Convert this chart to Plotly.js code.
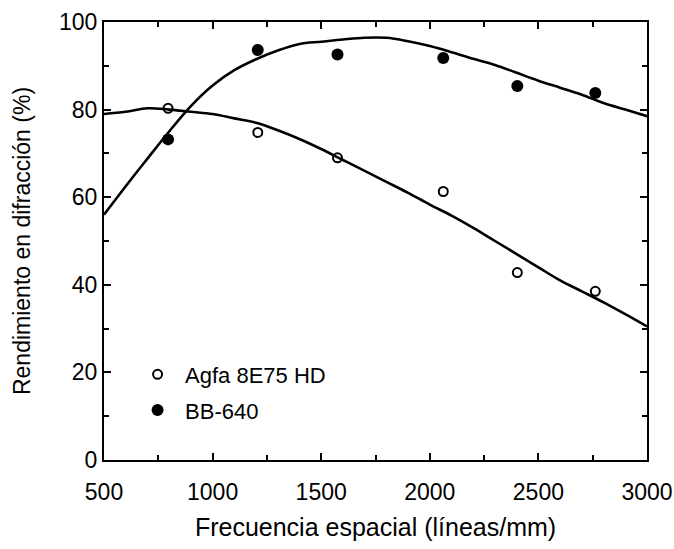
<!DOCTYPE html>
<html>
<head>
<meta charset="utf-8">
<script src="https://cdn.plot.ly/plotly-3.0.1.min.js"></script>
<style>html,body{margin:0;padding:0;background:#fff}#chart{width:674px;height:549px}</style>
</head>
<body>
<div id="chart"></div>
<script>
// Measured points
var xPts = [795, 1208, 1575, 2062, 2403, 2762];
var agfaPts = [80.3, 74.8, 69.0, 61.3, 42.8, 38.5];
var bbPts = [73.2, 93.6, 92.6, 91.8, 85.4, 83.8];

// Fitted curves
var xCurve = [500, 600, 700, 800, 900, 1000, 1100, 1200, 1300, 1400, 1500, 1600, 1700, 1800, 1900, 2000, 2100, 2200, 2300, 2400, 2500, 2600, 2700, 2800, 2900, 3000];
var agfaCurve = [79, 79.5, 80.3, 80, 79.5, 79, 78, 77, 75.3, 73.3, 71, 68.5, 66, 63.5, 61, 58.3, 55.8, 53, 50, 47, 44, 41, 38.5, 36, 33.3, 30.5];
var bbCurve = [56, 62.5, 68.8, 75, 80.8, 85.5, 89, 91.5, 93.5, 95, 95.5, 96, 96.4, 96.4, 95.6, 94.5, 93.1, 91.6, 90.2, 88.4, 86.6, 85, 83.4, 81.5, 80, 78.5];

var names = ['Agfa 8E75 HD', 'BB-640'];

var fam = 'Liberation Sans, Arial, sans-serif';

var traces = [
  {x: xCurve, y: agfaCurve, mode: 'lines', line: {color: '#000', width: 2.6, shape: 'spline'}, showlegend: false, hoverinfo: 'skip'},
  {x: xCurve, y: bbCurve, mode: 'lines', line: {color: '#000', width: 2.6, shape: 'spline'}, showlegend: false, hoverinfo: 'skip'},
  {x: xPts, y: agfaPts, mode: 'markers', name: names[0], legendgroup: 'a',
   marker: {symbol: 'circle-open', size: 9, color: '#000', line: {width: 2, color: '#000'}}},
  {x: xPts, y: bbPts, mode: 'markers', name: names[1], legendgroup: 'b',
   marker: {symbol: 'circle', size: 12, color: '#000'}}
];

var layout = {
  width: 674, height: 549,
  margin: {l: 104, r: 27, t: 22, b: 89},
  paper_bgcolor: '#fff', plot_bgcolor: '#fff',
  font: {family: fam, color: '#000', size: 22},
  showlegend: true,
  legend: {x: 0.048, y: 0.243, xanchor: 'left', yanchor: 'top', bgcolor: 'rgba(0,0,0,0)',
           itemwidth: 45,
           font: {family: fam, size: 22, color: '#000'}, tracegroupgap: 4},
  xaxis: {
    range: [500, 3000], dtick: 500, tick0: 500,
    showgrid: false, zeroline: false,
    showline: true, linecolor: '#000', linewidth: 2, mirror: 'allticks',
    ticks: 'inside', ticklen: 7, tickwidth: 2, tickcolor: '#000',
    ticklabelstandoff: 10,
    tickfont: {family: fam, size: 23, color: '#000'},
    minor: {dtick: 250, ticks: 'inside', ticklen: 5, tickwidth: 2, tickcolor: '#000', showgrid: false},
    title: {text: 'Frecuencia espacial (líneas/mm)', font: {family: fam, size: 25, color: '#000'}, standoff: 15}
  },
  yaxis: {
    range: [0, 100], dtick: 20,
    showgrid: false, zeroline: false,
    showline: true, linecolor: '#000', linewidth: 2, mirror: 'allticks',
    ticks: 'inside', ticklen: 7, tickwidth: 2, tickcolor: '#000',
    tickfont: {family: fam, size: 23, color: '#000'},
    minor: {dtick: 10, ticks: 'inside', ticklen: 5, tickwidth: 2, tickcolor: '#000', showgrid: false},
    title: {text: 'Rendimiento en difracción (%)', font: {family: fam, size: 23, color: '#000'}, standoff: 22}
  }
};

Plotly.newPlot('chart', traces, layout, {displayModeBar: false, staticPlot: true});
</script>
</body>
</html>
